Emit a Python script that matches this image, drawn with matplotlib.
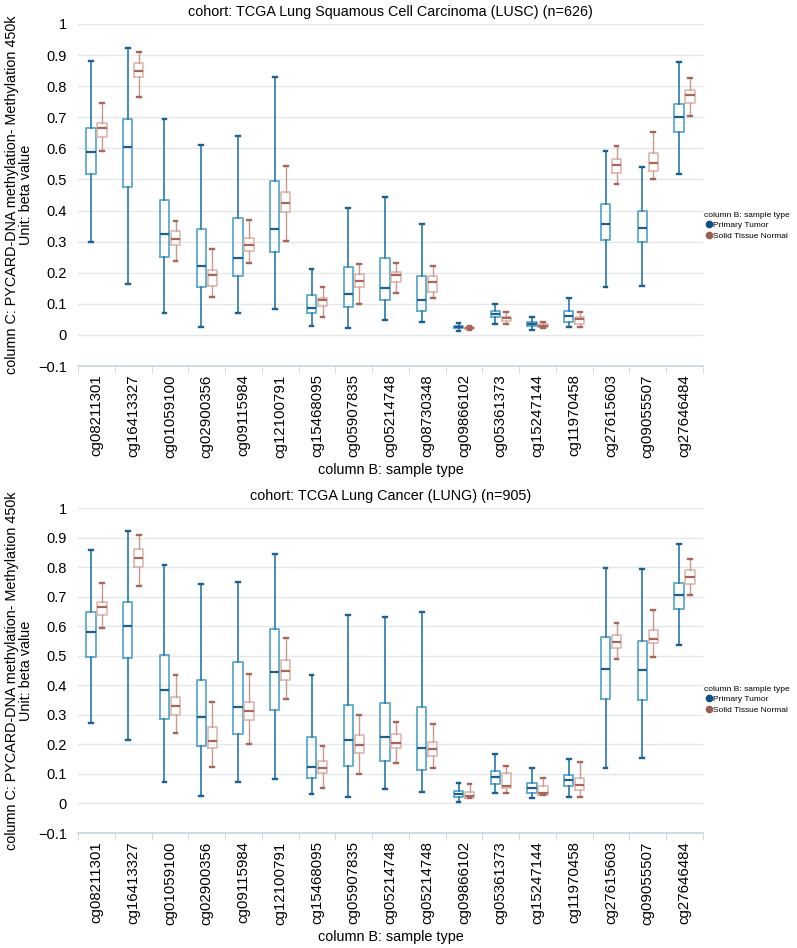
import matplotlib
matplotlib.use("Agg")
import matplotlib.pyplot as plt
from matplotlib.lines import Line2D

plt.rcParams['font.family'] = ['Liberation Sans', 'DejaVu Sans']

probes_lusc = ["cg08211301", "cg16413327", "cg01059100", "cg02900356", "cg09115984",
               "cg12100791", "cg15468095", "cg05907835", "cg05214748", "cg08730348",
               "cg09866102", "cg05361373", "cg15247144", "cg11970458", "cg27615603",
               "cg09055507", "cg27646484"]
probes_lung = ["cg08211301", "cg16413327", "cg01059100", "cg02900356", "cg09115984",
               "cg12100791", "cg15468095", "cg05907835", "cg05214748", "cg05214748",
               "cg09866102", "cg05361373", "cg15247144", "cg11970458", "cg27615603",
               "cg09055507", "cg27646484"]

# each row: whisker low, q1, median, q3, whisker high
lusc_tumor = [
    [0.300, 0.518, 0.589, 0.665, 0.880],
    [0.163, 0.476, 0.604, 0.695, 0.922],
    [0.071, 0.252, 0.324, 0.435, 0.696],
    [0.026, 0.154, 0.223, 0.340, 0.612],
    [0.071, 0.189, 0.249, 0.375, 0.641],
    [0.083, 0.267, 0.340, 0.494, 0.830],
    [0.030, 0.070, 0.087, 0.127, 0.213],
    [0.023, 0.090, 0.131, 0.219, 0.409],
    [0.049, 0.113, 0.152, 0.247, 0.445],
    [0.041, 0.078, 0.113, 0.191, 0.357],
    [0.014, 0.021, 0.026, 0.029, 0.038],
    [0.036, 0.058, 0.067, 0.076, 0.100],
    [0.017, 0.028, 0.035, 0.042, 0.058],
    [0.024, 0.043, 0.061, 0.076, 0.118],
    [0.153, 0.304, 0.358, 0.420, 0.592],
    [0.156, 0.299, 0.345, 0.398, 0.541],
    [0.519, 0.653, 0.701, 0.744, 0.877],
]
lusc_normal = [
    [0.593, 0.636, 0.666, 0.681, 0.746],
    [0.764, 0.828, 0.850, 0.874, 0.910],
    [0.237, 0.290, 0.309, 0.333, 0.367],
    [0.122, 0.157, 0.192, 0.209, 0.277],
    [0.230, 0.270, 0.288, 0.313, 0.369],
    [0.302, 0.396, 0.425, 0.460, 0.544],
    [0.057, 0.094, 0.113, 0.120, 0.155],
    [0.100, 0.155, 0.175, 0.197, 0.228],
    [0.134, 0.169, 0.192, 0.201, 0.230],
    [0.120, 0.139, 0.170, 0.190, 0.221],
    [0.017, 0.018, 0.023, 0.025, 0.029],
    [0.035, 0.045, 0.053, 0.059, 0.074],
    [0.023, 0.025, 0.030, 0.034, 0.041],
    [0.024, 0.036, 0.050, 0.059, 0.074],
    [0.486, 0.520, 0.547, 0.565, 0.609],
    [0.501, 0.528, 0.554, 0.586, 0.653],
    [0.705, 0.746, 0.771, 0.788, 0.827],
]
lung_tumor = [
    [0.273, 0.495, 0.579, 0.648, 0.857],
    [0.215, 0.493, 0.600, 0.682, 0.922],
    [0.071, 0.285, 0.385, 0.503, 0.806],
    [0.026, 0.195, 0.294, 0.419, 0.744],
    [0.071, 0.234, 0.328, 0.479, 0.748],
    [0.083, 0.318, 0.446, 0.590, 0.843],
    [0.032, 0.087, 0.125, 0.226, 0.435],
    [0.023, 0.127, 0.214, 0.333, 0.639],
    [0.050, 0.143, 0.225, 0.340, 0.632],
    [0.040, 0.112, 0.187, 0.328, 0.649],
    [0.006, 0.023, 0.032, 0.041, 0.070],
    [0.037, 0.067, 0.089, 0.109, 0.169],
    [0.017, 0.034, 0.053, 0.070, 0.121],
    [0.023, 0.059, 0.080, 0.098, 0.152],
    [0.119, 0.355, 0.455, 0.562, 0.796],
    [0.155, 0.350, 0.451, 0.551, 0.793],
    [0.537, 0.658, 0.707, 0.745, 0.878],
]
lung_normal = [
    [0.594, 0.639, 0.664, 0.682, 0.746],
    [0.735, 0.802, 0.832, 0.861, 0.909],
    [0.237, 0.298, 0.330, 0.359, 0.436],
    [0.122, 0.189, 0.210, 0.260, 0.343],
    [0.200, 0.282, 0.313, 0.343, 0.439],
    [0.355, 0.419, 0.449, 0.486, 0.559],
    [0.053, 0.103, 0.121, 0.143, 0.196],
    [0.101, 0.171, 0.197, 0.231, 0.299],
    [0.136, 0.187, 0.204, 0.234, 0.276],
    [0.119, 0.161, 0.185, 0.207, 0.268],
    [0.018, 0.020, 0.026, 0.039, 0.067],
    [0.035, 0.052, 0.059, 0.102, 0.127],
    [0.028, 0.029, 0.035, 0.058, 0.087],
    [0.023, 0.044, 0.061, 0.085, 0.140],
    [0.488, 0.525, 0.548, 0.569, 0.611],
    [0.495, 0.542, 0.557, 0.588, 0.654],
    [0.705, 0.742, 0.768, 0.790, 0.829],
]

titles = ["cohort: TCGA Lung Squamous Cell Carcinoma (LUSC) (n=626)",
          "cohort: TCGA Lung Cancer (LUNG) (n=905)"]
group_names = ["Primary Tumor", "Solid Tissue Normal"]
yticks = [-0.1, 0, 0.1, 0.2, 0.3, 0.4, 0.5, 0.6, 0.7, 0.8, 0.9, 1]
ytick_labels = ["\u22120.1", "0", "0.1", "0.2", "0.3", "0.4", "0.5", "0.6", "0.7", "0.8", "0.9", "1"]

tumor_style = dict(box="#5ea8cc", line="#2878a8", med="#1d6090", dot="#0d4f88")
normal_style = dict(box="#dcb2a8", line="#c8998f", med="#a86558", dot="#9b5d52")


def stats(rows, labels):
    return [dict(whislo=r[0], q1=r[1], med=r[2], q3=r[3], whishi=r[4], fliers=[], label=l)
            for r, l in zip(rows, labels)]


def draw(ax, tumor, normal, labels, title):
    n = len(labels)
    for rows, off, st, lw in [(tumor, -0.15, tumor_style, 1.3), (normal, 0.15, normal_style, 1.1)]:
        ax.bxp(stats(rows, labels), positions=[i + off for i in range(n)], widths=0.25,
               showfliers=False, manage_ticks=False,
               boxprops=dict(color=st["box"], linewidth=lw),
               whiskerprops=dict(color=st["line"], linewidth=lw - 0.1),
               capprops=dict(color=st["med"], linewidth=1.7),
               medianprops=dict(color=st["med"], linewidth=1.6),
               capwidths=0.1)
    ax.set_xlim(-0.5, n - 0.5)
    ax.set_ylim(-0.1, 1.0)
    ax.set_yticks(yticks)
    ax.set_yticklabels(ytick_labels, fontsize=10.5)
    ax.set_xticks(range(n))
    ax.set_xticklabels(labels, rotation=90, fontsize=10.8)
    ax.set_xticks([i - 0.5 for i in range(n + 1)], minor=True)
    ax.tick_params(axis="x", which="major", length=0, pad=6)
    ax.tick_params(axis="x", which="minor", length=5, color="#c9d4de", direction="out")
    ax.tick_params(axis="y", length=0, pad=8)
    for s in ["top", "right", "left"]:
        ax.spines[s].set_visible(False)
    ax.spines["bottom"].set_color("#c9d4de")
    ax.spines["bottom"].set_linewidth(1.2)
    for y in yticks[1:]:
        ax.axhline(y, color="#e4e6ea", linewidth=1, zorder=0)
    ax.set_title(title, fontsize=10.4, pad=6)
    ax.set_xlabel("column B: sample type", fontsize=10.4, labelpad=4)
    ax.set_ylabel("column C: PYCARD-DNA methylation- Methylation 450k\nUnit: beta value",
                  fontsize=10.4, linespacing=1.0, labelpad=4)
    handles = [Line2D([], [], marker="o", linestyle="", color=tumor_style["dot"], markersize=4.5),
               Line2D([], [], marker="o", linestyle="", color=normal_style["dot"], markersize=4.5)]
    leg = ax.legend(handles, group_names, title="column B: sample type", loc="center left",
                    bbox_to_anchor=(0.993, 0.41), frameon=False, fontsize=6.0, title_fontsize=6.0,
                    handletextpad=0.0, borderpad=0.2, labelspacing=0.3, handlelength=1.0)
    leg._legend_box.align = "left"


fig = plt.figure(figsize=(7.97, 9.48), dpi=100)
ax1 = fig.add_axes([0.098, 0.6139, 0.784, 0.3608])
ax2 = fig.add_axes([0.098, 0.1213, 0.784, 0.3428])
draw(ax1, lusc_tumor, lusc_normal, probes_lusc, titles[0])
draw(ax2, lung_tumor, lung_normal, probes_lung, titles[1])

fig.savefig("out.png", dpi=100)
